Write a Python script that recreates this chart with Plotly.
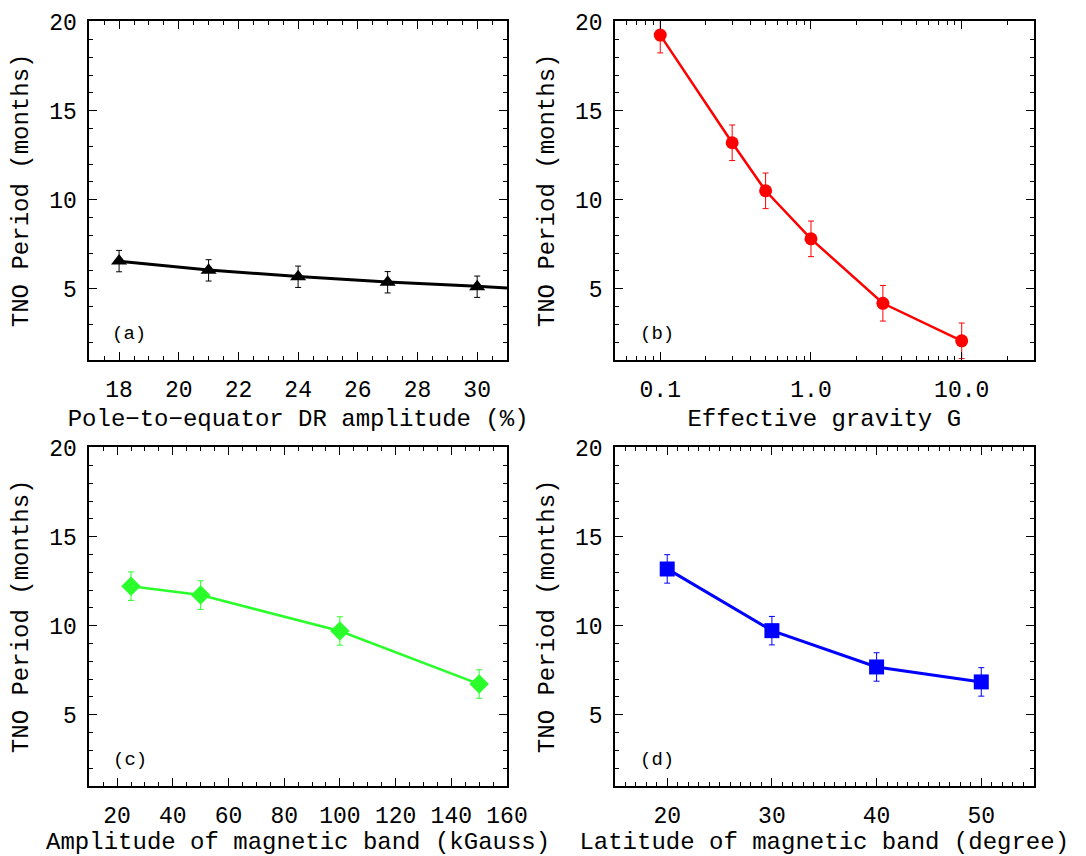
import plotly.graph_objects as go
from plotly.subplots import make_subplots

# ---- data ----
dr_amp = [18, 21, 24, 27, 30]
dr_period = [6.55, 6.03, 5.67, 5.36, 5.11]
dr_err = [0.6, 0.6, 0.6, 0.6, 0.6]
dr_fit_x = [18, 21, 24, 27, 30, 31]
dr_fit_y = [6.54, 6.05, 5.69, 5.37, 5.13, 5.04]

grav = [0.1, 0.3, 0.5, 1.0, 3.0, 10.0]
grav_period = [19.25, 13.2, 10.5, 7.8, 4.18, 2.07]
grav_err = [1.0, 1.0, 1.0, 1.0, 1.0, 1.0]

bamp = [25, 50, 100, 150]
bamp_period = [12.22, 11.72, 9.7, 6.72]
bamp_err = [0.8, 0.8, 0.8, 0.8]

blat = [20, 30, 40, 50]
blat_period = [13.19, 9.72, 7.68, 6.84]
blat_err = [0.8, 0.8, 0.8, 0.8]

xtitles = ["Pole\u2212to\u2212equator DR amplitude (%)", "Effective gravity G",
           "Amplitude of magnetic band (kGauss)", "Latitude of magnetic band (degree)"]
ytitle = "TNO Period (months)"
panel_labels = ["(a)", "(b)", "(c)", "(d)"]
grav_ticks = [0.1, 1.0, 10.0]
grav_ticktext = ["0.1", "1.0", "10.0"]
grav_minor = [0.05, 0.06, 0.07, 0.08, 0.09, 0.2, 0.3, 0.4, 0.5, 0.6, 0.7, 0.8, 0.9,
              2, 3, 4, 5, 6, 7, 8, 9, 20, 30]

FONT = "Liberation Mono"
W, H = 1086, 856

fig = make_subplots(rows=2, cols=2)

def err(vals, color):
    return dict(type="data", array=vals, visible=True, color=color, thickness=1, width=3)

# (a)
fig.add_trace(go.Scatter(x=dr_fit_x, y=dr_fit_y, mode="lines",
                         line=dict(color="black", width=3), showlegend=False), row=1, col=1)
fig.add_trace(go.Scatter(x=dr_amp, y=dr_period, mode="markers",
                         marker=dict(symbol="triangle-up", size=14, color="black"),
                         error_y=err(dr_err, "black"), showlegend=False), row=1, col=1)
# (b)
fig.add_trace(go.Scatter(x=grav, y=grav_period, mode="lines+markers",
                         line=dict(color="#ff0000", width=2.5),
                         marker=dict(symbol="circle", size=13, color="#ff0000"),
                         error_y=err(grav_err, "#ff0000"), showlegend=False), row=1, col=2)
# (c)
fig.add_trace(go.Scatter(x=bamp, y=bamp_period, mode="lines+markers",
                         line=dict(color="#2bff2b", width=2.5),
                         marker=dict(symbol="diamond", size=15, color="#2bff2b"),
                         error_y=err(bamp_err, "#2bff2b"), showlegend=False), row=2, col=1)
# (d)
fig.add_trace(go.Scatter(x=blat, y=blat_period, mode="lines+markers",
                         line=dict(color="#0000ff", width=3),
                         marker=dict(symbol="square", size=15, color="#0000ff"),
                         error_y=err(blat_err, "#0000ff"), showlegend=False), row=2, col=2)

xdom_l = [91 / W, 517 / W]
xdom_r = [627 / W, 1054 / W]
ydom_t = [1 - 354 / H, 1 - 11 / H]
ydom_b = [1 - 785 / H, 1 - 442 / H]

axis_common = dict(showline=True, linecolor="black", linewidth=1.5, mirror="ticks",
                   ticks="inside", ticklen=8, tickwidth=1, tickcolor="black",
                   showgrid=False, zeroline=False,
                   tickfont=dict(family=FONT, size=23, color="black"),
                   title_font=dict(family=FONT, size=24, color="black"))

def minor(dtick=None, vals=None):
    m = dict(ticks="inside", ticklen=4, tickwidth=1, tickcolor="black", showgrid=False)
    if dtick is not None:
        m["dtick"] = dtick
    if vals is not None:
        m["tickvals"] = vals
    return m

xt = dict(ticklabelstandoff=8)
yt = dict(ticklabelstandoff=6)

fig.update_layout(
    width=W, height=H, margin=dict(l=0, r=0, t=0, b=0),
    paper_bgcolor="white", plot_bgcolor="white",
    xaxis=dict(domain=xdom_l, range=[17, 31], tick0=18, dtick=2, minor=minor(0.5),
               title=dict(text=xtitles[0], standoff=6), **xt, **axis_common),
    xaxis2=dict(domain=xdom_r, type="log", range=[-1.30103, 1.47712],
                tickvals=grav_ticks, ticktext=grav_ticktext, minor=minor(vals=grav_minor),
                title=dict(text=xtitles[1], standoff=6), **xt, **axis_common),
    xaxis3=dict(domain=xdom_l, range=[10, 160], tick0=0, dtick=20, minor=minor(5),
                title=dict(text=xtitles[2], standoff=6), **xt, **axis_common),
    xaxis4=dict(domain=xdom_r, range=[15, 55], tick0=0, dtick=10, minor=minor(1),
                title=dict(text=xtitles[3], standoff=6), **xt, **axis_common),
    yaxis=dict(domain=ydom_t, range=[1, 20.05], tick0=0, dtick=5, minor=minor(1),
               title=dict(text=ytitle, standoff=14), **yt, **axis_common),
    yaxis2=dict(domain=ydom_t, range=[1, 20.05], tick0=0, dtick=5, minor=minor(1),
                title=dict(text=ytitle, standoff=14), **yt, **axis_common),
    yaxis3=dict(domain=ydom_b, range=[1, 20.05], tick0=0, dtick=5, minor=minor(1),
                title=dict(text=ytitle, standoff=14), **yt, **axis_common),
    yaxis4=dict(domain=ydom_b, range=[1, 20.05], tick0=0, dtick=5, minor=minor(1),
                title=dict(text=ytitle, standoff=14), **yt, **axis_common),
)

label_pos = [("x", "y", 0.095, 0.075), ("x2", "y2", 0.10, 0.075),
             ("x3", "y3", 0.097, 0.075), ("x4", "y4", 0.10, 0.075)]
for (xr, yr, px, py), lab in zip(label_pos, panel_labels):
    fig.add_annotation(text=lab, xref=f"{xr} domain", yref=f"{yr} domain", x=px, y=py,
                       showarrow=False, xanchor="center", yanchor="middle",
                       font=dict(family=FONT, size=19, color="black"))

fig.write_html("out.html", config={"displayModeBar": False},
               post_script="document.body.style.margin='0';document.body.style.overflow='hidden';")
